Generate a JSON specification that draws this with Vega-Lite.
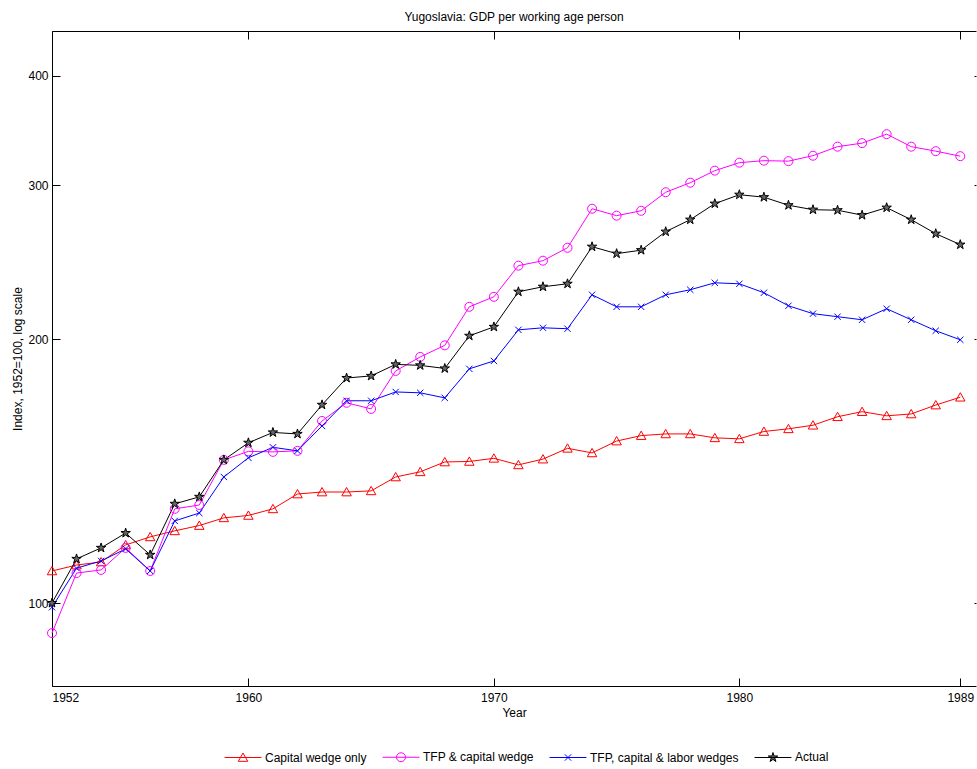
{
  "$schema": "https://vega.github.io/schema/vega-lite/v6.json",
  "width": 924,
  "height": 655,
  "autosize": {"type": "none"},
  "padding": {"left": 52, "top": 31, "right": 1, "bottom": 83},
  "background": "white",
  "title": {"text": "Yugoslavia: GDP per working age person", "fontSize": 12, "font": "Liberation Sans", "fontWeight": "normal", "color": "#000", "offset": 7, "anchor": "middle"},
  "data": {"values": [
    {"year": 1952, "Capital wedge only": 108.8, "TFP & capital wedge": 92.4, "TFP, capital & labor wedges": 98.9, "Actual": 100},
    {"year": 1953, "Capital wedge only": 110.5, "TFP & capital wedge": 108.2, "TFP, capital & labor wedges": 109.6, "Actual": 112.3},
    {"year": 1954, "Capital wedge only": 111.4, "TFP & capital wedge": 109.1, "TFP, capital & labor wedges": 111.7, "Actual": 115.6},
    {"year": 1955, "Capital wedge only": 116.5, "TFP & capital wedge": 115.6, "TFP, capital & labor wedges": 115.3, "Actual": 120.2},
    {"year": 1956, "Capital wedge only": 119.0, "TFP & capital wedge": 108.8, "TFP, capital & labor wedges": 108.8, "Actual": 113.5},
    {"year": 1957, "Capital wedge only": 120.9, "TFP & capital wedge": 128.1, "TFP, capital & labor wedges": 124.1, "Actual": 129.8},
    {"year": 1958, "Capital wedge only": 122.6, "TFP & capital wedge": 129.4, "TFP, capital & labor wedges": 126.7, "Actual": 132.2},
    {"year": 1959, "Capital wedge only": 125.1, "TFP & capital wedge": 145.7, "TFP, capital & labor wedges": 139.3, "Actual": 145.7},
    {"year": 1960, "Capital wedge only": 125.9, "TFP & capital wedge": 149.0, "TFP, capital & labor wedges": 146.5, "Actual": 152.4},
    {"year": 1961, "Capital wedge only": 128.1, "TFP & capital wedge": 148.8, "TFP, capital & labor wedges": 150.6, "Actual": 156.6},
    {"year": 1962, "Capital wedge only": 133.2, "TFP & capital wedge": 149.2, "TFP, capital & labor wedges": 149.2, "Actual": 156.0},
    {"year": 1963, "Capital wedge only": 133.9, "TFP & capital wedge": 161.4, "TFP, capital & labor wedges": 159.3, "Actual": 168.4},
    {"year": 1964, "Capital wedge only": 133.9, "TFP & capital wedge": 169.3, "TFP, capital & labor wedges": 170.2, "Actual": 180.7},
    {"year": 1965, "Capital wedge only": 134.3, "TFP & capital wedge": 166.6, "TFP, capital & labor wedges": 170.2, "Actual": 181.7},
    {"year": 1966, "Capital wedge only": 139.3, "TFP & capital wedge": 184.1, "TFP, capital & labor wedges": 174.2, "Actual": 187.3},
    {"year": 1967, "Capital wedge only": 141.2, "TFP & capital wedge": 191.0, "TFP, capital & labor wedges": 173.8, "Actual": 186.8},
    {"year": 1968, "Capital wedge only": 144.9, "TFP & capital wedge": 196.9, "TFP, capital & labor wedges": 171.5, "Actual": 185.3},
    {"year": 1969, "Capital wedge only": 145.1, "TFP & capital wedge": 217.9, "TFP, capital & labor wedges": 185.1, "Actual": 201.9},
    {"year": 1970, "Capital wedge only": 146.3, "TFP & capital wedge": 223.7, "TFP, capital & labor wedges": 189.0, "Actual": 206.7},
    {"year": 1971, "Capital wedge only": 143.8, "TFP & capital wedge": 242.8, "TFP, capital & labor wedges": 205.1, "Actual": 226.7},
    {"year": 1972, "Capital wedge only": 146.0, "TFP & capital wedge": 246.0, "TFP, capital & labor wedges": 206.2, "Actual": 229.7},
    {"year": 1973, "Capital wedge only": 150.2, "TFP & capital wedge": 254.5, "TFP, capital & labor wedges": 205.7, "Actual": 231.5},
    {"year": 1974, "Capital wedge only": 148.4, "TFP & capital wedge": 282.0, "TFP, capital & labor wedges": 224.9, "Actual": 255.2},
    {"year": 1975, "Capital wedge only": 153.1, "TFP & capital wedge": 276.9, "TFP, capital & labor wedges": 217.9, "Actual": 250.6},
    {"year": 1976, "Capital wedge only": 155.3, "TFP & capital wedge": 280.5, "TFP, capital & labor wedges": 217.9, "Actual": 252.9},
    {"year": 1977, "Capital wedge only": 156.0, "TFP & capital wedge": 294.5, "TFP, capital & labor wedges": 224.9, "Actual": 265.5},
    {"year": 1978, "Capital wedge only": 156.0, "TFP & capital wedge": 302.0, "TFP, capital & labor wedges": 227.9, "Actual": 274.0},
    {"year": 1979, "Capital wedge only": 154.4, "TFP & capital wedge": 311.7, "TFP, capital & labor wedges": 232.1, "Actual": 285.8},
    {"year": 1980, "Capital wedge only": 154.0, "TFP & capital wedge": 318.3, "TFP, capital & labor wedges": 231.5, "Actual": 292.6},
    {"year": 1981, "Capital wedge only": 157.0, "TFP & capital wedge": 320.0, "TFP, capital & labor wedges": 226.1, "Actual": 290.7},
    {"year": 1982, "Capital wedge only": 158.1, "TFP & capital wedge": 319.6, "TFP, capital & labor wedges": 218.5, "Actual": 284.6},
    {"year": 1983, "Capital wedge only": 159.6, "TFP & capital wedge": 324.2, "TFP, capital & labor wedges": 214.0, "Actual": 281.3},
    {"year": 1984, "Capital wedge only": 163.2, "TFP & capital wedge": 332.0, "TFP, capital & labor wedges": 212.3, "Actual": 280.9},
    {"year": 1985, "Capital wedge only": 165.4, "TFP & capital wedge": 335.1, "TFP, capital & labor wedges": 210.6, "Actual": 277.3},
    {"year": 1986, "Capital wedge only": 163.6, "TFP & capital wedge": 343.1, "TFP, capital & labor wedges": 216.8, "Actual": 282.8},
    {"year": 1987, "Capital wedge only": 164.4, "TFP & capital wedge": 332.0, "TFP, capital & labor wedges": 210.6, "Actual": 274.0},
    {"year": 1988, "Capital wedge only": 168.3, "TFP & capital wedge": 328.1, "TFP, capital & labor wedges": 204.6, "Actual": 264.1},
    {"year": 1989, "Capital wedge only": 171.8, "TFP & capital wedge": 323.8, "TFP, capital & labor wedges": 199.8, "Actual": 256.6}
  ]},
  "transform": [
    {"fold": ["Capital wedge only", "TFP & capital wedge", "TFP, capital & labor wedges", "Actual"], "as": ["series", "value"]}
  ],
  "layer": [
    {
      "mark": {"type": "line", "strokeWidth": 1},
      "encoding": {
        "x": {"field": "year", "type": "quantitative", "scale": {"domain": [1952, 1989.64], "nice": false, "zero": false},
              "axis": {"orient": "bottom", "values": [1952, 1960, 1970, 1980, 1989], "format": "d", "title": "Year", "domain": true, "labelPadding": 14, "titleY": 21, "titleBaseline": "top"}},
        "y": {"field": "value", "type": "quantitative", "scale": {"type": "log", "domain": [80.4, 450], "nice": false},
              "axis": {"orient": "left", "values": [100, 200, 300, 400], "format": "d", "title": "Index, 1952=100, log scale", "domain": true, "labelPadding": 12, "titleX": -35, "titleBaseline": "middle"}},
        "color": {"field": "series", "type": "nominal",
                  "scale": {"domain": ["Capital wedge only", "TFP & capital wedge", "TFP, capital & labor wedges", "Actual"], "range": ["#ff0000", "#ff00ff", "#0000ff", "#000000"]},
                  "legend": {"orient": "none", "legendX": 185, "legendY": 720, "direction": "horizontal", "columns": 4, "title": null,
                             "labelFontSize": 12, "labelColor": "#000", "labelFont": "Liberation Sans", "symbolSize": 81, "symbolStrokeWidth": 1,
                             "labelOffset": 16, "columnPadding": 13, "padding": 0,
                             "encode": {"symbols": {"update": {
                               "fill": {"signal": "datum.value === 'Actual' ? '#666666' : 'transparent'"},
                               "shape": {"signal": "datum.value === 'Capital wedge only' ? 'M-4.1,0H4.1M0,-1L1.05,0.85L-1.05,0.85Z' : datum.value === 'TFP & capital wedge' ? 'M-4.1,0H4.1M1,0A1,1,0,1,1,-1,0A1,1,0,1,1,1,0' : datum.value === 'Actual' ? 'M-4.1,0H4.1M0,-1.1L0.246,-0.338L1.046,-0.34L0.397,0.129L0.647,0.89L0,0.418L-0.647,0.89L-0.397,0.129L-1.046,-0.34L-0.246,-0.338Z' : 'M-4.1,0H4.1M-0.7,-0.7L0.7,0.7M-0.7,0.7L0.7,-0.7'"}
                             }}}}}
      }
    },
    {
      "transform": [{"filter": "datum.series === 'Capital wedge only'"}],
      "mark": {"type": "point", "filled": false, "strokeWidth": 1, "size": 81, "opacity": 1, "color": "#ff0000", "shape": "M0,-1L1.05,0.85L-1.05,0.85Z"},
      "encoding": {
        "x": {"field": "year", "type": "quantitative",
              "axis": {"orient": "top", "values": [1952, 1960, 1970, 1980, 1989], "labels": false, "title": null, "domain": true}},
        "y": {"field": "value", "type": "quantitative",
              "axis": {"orient": "right", "values": [100, 200, 300, 400], "labels": false, "title": null, "domain": false, "tickSize": -2}}
      }
    },
    {
      "transform": [{"filter": "datum.series === 'TFP & capital wedge'"}],
      "mark": {"type": "point", "filled": false, "strokeWidth": 1, "size": 81, "opacity": 1, "color": "#ff00ff", "shape": "M1,0A1,1,0,1,1,-1,0A1,1,0,1,1,1,0"},
      "encoding": {
        "x": {"field": "year", "type": "quantitative", "axis": null},
        "y": {"field": "value", "type": "quantitative", "axis": null}
      }
    },
    {
      "transform": [{"filter": "datum.series === 'TFP, capital & labor wedges'"}],
      "mark": {"type": "point", "filled": false, "strokeWidth": 1, "size": 81, "opacity": 1, "color": "#0000ff", "shape": "M-0.7,-0.7L0.7,0.7M-0.7,0.7L0.7,-0.7"},
      "encoding": {
        "x": {"field": "year", "type": "quantitative", "axis": null},
        "y": {"field": "value", "type": "quantitative", "axis": null}
      }
    },
    {
      "transform": [{"filter": "datum.series === 'Actual'"}],
      "mark": {"type": "point", "filled": true, "fill": "#666666", "fillOpacity": 1, "stroke": "#000000", "strokeWidth": 1, "size": 81, "opacity": 1, "shape": "M0,-1.1L0.246,-0.338L1.046,-0.34L0.397,0.129L0.647,0.89L0,0.418L-0.647,0.89L-0.397,0.129L-1.046,-0.34L-0.246,-0.338Z"},
      "encoding": {
        "x": {"field": "year", "type": "quantitative", "axis": null},
        "y": {"field": "value", "type": "quantitative", "axis": null}
      }
    }
  ],
  "resolve": {"axis": {"x": "independent", "y": "independent"}},
  "config": {
    "font": "Liberation Sans",
    "view": {"stroke": null},
    "axis": {"grid": false, "domainColor": "#000", "domainWidth": 1, "tickColor": "#000", "tickWidth": 1, "tickSize": -8,
             "labelColor": "#000", "labelFontSize": 12, "labelFont": "Liberation Sans",
             "titleFontSize": 12, "titleFontWeight": "normal", "titleColor": "#000", "titleFont": "Liberation Sans"}
  }
}
